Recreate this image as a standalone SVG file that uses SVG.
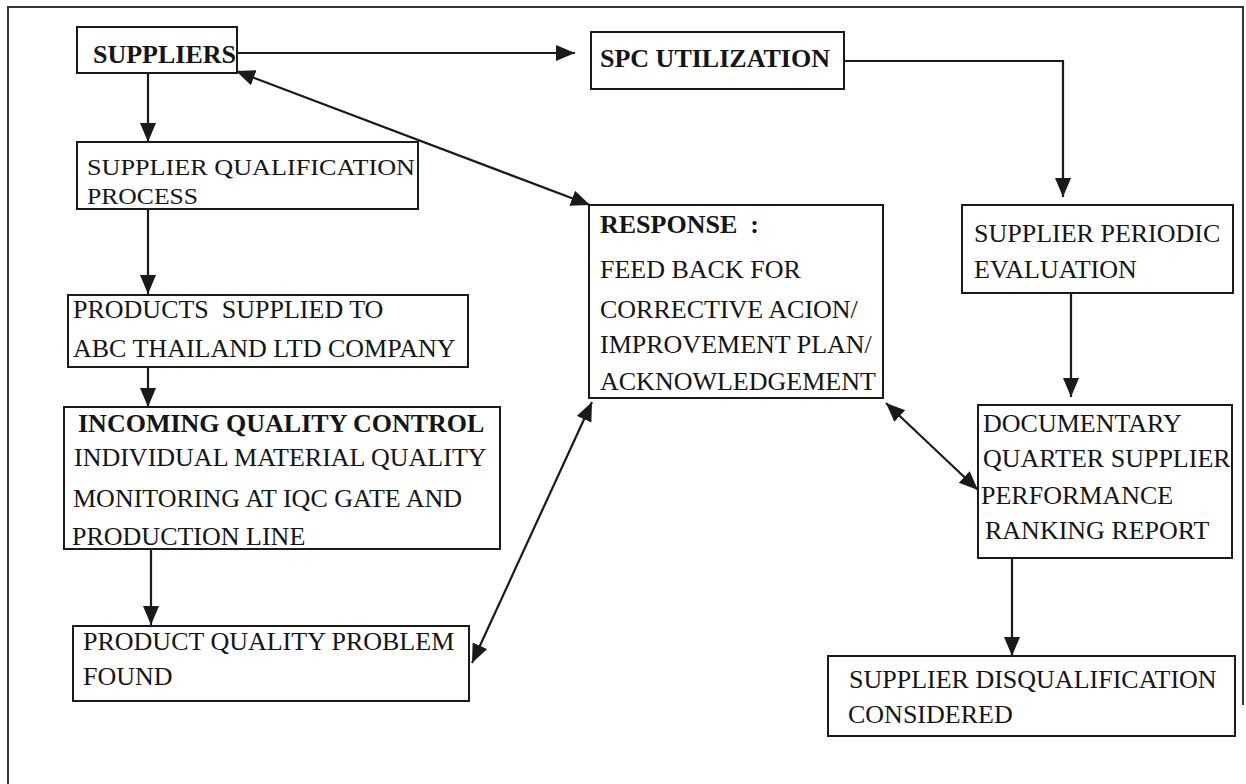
<svg xmlns="http://www.w3.org/2000/svg" width="1246" height="784" viewBox="0 0 1246 784">
<style>
.box{fill:#fff;stroke:#1a1a1a;stroke-width:2}
.t{font-family:"Liberation Serif","Times New Roman",serif;font-size:26px;fill:#151515}
.s{font-size:24px}
.b{font-weight:bold}
.c{fill:none;stroke:#1a1a1a;stroke-width:2.2}
.frame{fill:none;stroke:#333;stroke-width:2}
</style>
<defs>
<marker id="ah" markerUnits="userSpaceOnUse" markerWidth="22" markerHeight="18" refX="19" refY="8" orient="auto-start-reverse" viewBox="0 0 22 18">
<path d="M0,0 L19,8 L0,16 z" fill="#1a1a1a"/>
</marker>
</defs>
<rect width="1246" height="784" fill="#fff"/>
<path class="frame" d="M8,784 L8,7 L1243,7 L1243,705"/>

<g id="connectors">
<line class="c" x1="237" y1="53" x2="575" y2="53" marker-end="url(#ah)"/>
<polyline class="c" points="844,61 1063,61 1063,197" marker-end="url(#ah)"/>
<line class="c" x1="148" y1="73" x2="148" y2="142" marker-end="url(#ah)"/>
<line class="c" x1="148" y1="209" x2="148" y2="294" marker-end="url(#ah)"/>
<line class="c" x1="148" y1="367" x2="148" y2="407" marker-end="url(#ah)"/>
<line class="c" x1="151" y1="549" x2="151" y2="625" marker-end="url(#ah)"/>
<line class="c" x1="1071" y1="293" x2="1071" y2="397" marker-end="url(#ah)"/>
<line class="c" x1="1012" y1="558" x2="1012" y2="656" marker-end="url(#ah)"/>
<line class="c" x1="236" y1="71" x2="590" y2="205" marker-start="url(#ah)" marker-end="url(#ah)"/>
<line class="c" x1="472" y1="663" x2="592" y2="402" marker-start="url(#ah)" marker-end="url(#ah)"/>
<line class="c" x1="886" y1="403" x2="978" y2="490" marker-start="url(#ah)" marker-end="url(#ah)"/>
</g>

<g id="suppliers">
<rect class="box" x="77" y="27" width="160" height="46"/>
<text class="t b" x="93" y="63">SUPPLIERS</text>
</g>

<g id="spc">
<rect class="box" x="591" y="32" width="253" height="57"/>
<text class="t b" x="600" y="67">SPC UTILIZATION</text>
</g>

<g id="qualification">
<rect class="box" x="77" y="142" width="341" height="67"/>
<text class="t s" x="87" y="175" textLength="328" lengthAdjust="spacingAndGlyphs">SUPPLIER QUALIFICATION</text>
<text class="t s" x="87" y="204" textLength="111" lengthAdjust="spacingAndGlyphs">PROCESS</text>
</g>

<g id="products">
<rect class="box" x="68" y="295" width="400" height="72"/>
<text class="t" x="73" y="318" xml:space="preserve">PRODUCTS  SUPPLIED TO</text>
<text class="t" x="73" y="357">ABC THAILAND LTD COMPANY</text>
</g>

<g id="iqc">
<rect class="box" x="64" y="407" width="436" height="142"/>
<text class="t b" x="78" y="432">INCOMING QUALITY CONTROL</text>
<text class="t" x="74" y="466">INDIVIDUAL MATERIAL QUALITY</text>
<text class="t" x="73" y="507">MONITORING AT IQC GATE AND</text>
<text class="t" x="72" y="545">PRODUCTION LINE</text>
</g>

<g id="problem">
<rect class="box" x="73" y="626" width="396" height="75"/>
<text class="t" x="83" y="650">PRODUCT QUALITY PROBLEM</text>
<text class="t" x="83" y="685">FOUND</text>
</g>

<g id="response">
<rect class="box" x="589" y="205" width="294" height="193"/>
<text class="t b" x="600" y="233" xml:space="preserve">RESPONSE  :</text>
<text class="t" x="600" y="278">FEED BACK FOR</text>
<text class="t" x="600" y="318">CORRECTIVE ACION/</text>
<text class="t" x="600" y="353">IMPROVEMENT PLAN/</text>
<text class="t" x="600" y="390">ACKNOWLEDGEMENT</text>
</g>

<g id="periodic">
<rect class="box" x="962" y="205" width="271" height="88"/>
<text class="t" x="974" y="242">SUPPLIER PERIODIC</text>
<text class="t" x="974" y="278">EVALUATION</text>
</g>

<g id="documentary">
<rect class="box" x="978" y="405" width="254" height="153"/>
<text class="t" x="983" y="432">DOCUMENTARY</text>
<text class="t" x="983" y="467">QUARTER SUPPLIER</text>
<text class="t" x="981" y="504">PERFORMANCE</text>
<text class="t" x="985" y="539">RANKING REPORT</text>
</g>

<g id="disqualification">
<rect class="box" x="828" y="656" width="407" height="80"/>
<text class="t" x="849" y="688">SUPPLIER DISQUALIFICATION</text>
<text class="t" x="848" y="723">CONSIDERED</text>
</g>
</svg>
